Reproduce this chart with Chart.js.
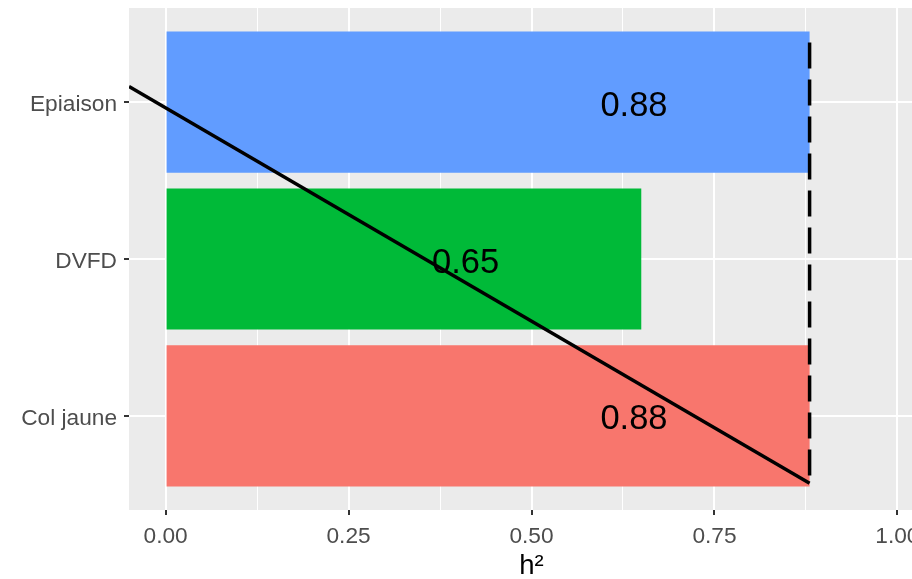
<!DOCTYPE html>
<html lang="fr">
<head>
    <meta charset="UTF-8">
    <title>h² par caractère</title>
    <script src="https://cdn.jsdelivr.net/npm/chart.js"></script>
    <style>
        body { margin: 0; overflow: hidden; background: #fff; }
        #wrap { width: 940px; height: 579px; }
    </style>
</head>
<body>
<div id="wrap"><canvas id="h2Chart" width="940" height="579"></canvas></div>

<script>
    // Data
    const traits = ['Col jaune', 'DVFD', 'Epiaison'];
    const traitPos = [1, 2, 3];
    const h2Values = [0.88, 0.65, 0.88];
    const barColors = ['#F8766D', '#00BA38', '#619CFF'];

    const xMajor = [0, 0.25, 0.5, 0.75, 1];
    const xMinor = [0.125, 0.375, 0.625, 0.875];

    // diagonal line and dashed reference line (x, y in data units)
    const trendX = [-0.05, 0.88];
    const trendY = [3.10, 0.57];
    const refX = [0.88, 0.88];
    const refY = [3.38, 0.57];

    const labelNudge = -0.24;
    const fontFamily = '"Liberation Sans", Arial, sans-serif';

    // panel background
    const panelBg = {
        id: 'panelBg',
        beforeDraw(chart) {
            const a = chart.chartArea;
            const ctx = chart.ctx;
            ctx.save();
            ctx.fillStyle = '#EBEBEB';
            ctx.fillRect(a.left, a.top, a.right - a.left, a.bottom - a.top);
            ctx.restore();
        }
    };

    // value labels on the bars
    const barLabels = {
        id: 'barLabels',
        afterDatasetsDraw(chart) {
            const ctx = chart.ctx;
            const xs = chart.scales.x, ys = chart.scales.y;
            ctx.save();
            ctx.font = '34.5px ' + fontFamily;
            ctx.fillStyle = '#000';
            ctx.textAlign = 'center';
            ctx.textBaseline = 'middle';
            h2Values.forEach((v, i) => {
                const x = xs.getPixelForValue(v + labelNudge);
                const y = ys.getPixelForValue(traitPos[i]) + 4;
                ctx.fillText(v.toFixed(2), x, y);
            });
            ctx.restore();
        }
    };

    const isMajor = v => xMajor.some(m => Math.abs(m - v) < 1e-9);

    new Chart(document.getElementById('h2Chart'), {
        data: {
            datasets: [{
                type: 'bar',
                indexAxis: 'y',
                order: 2,
                data: traitPos.map((p, i) => ({ x: h2Values[i], y: p })),
                backgroundColor: barColors,
                borderWidth: 0,
                categoryPercentage: 0.9,
                barPercentage: 1
            }, {
                type: 'line',
                order: 1,
                data: trendX.map((x, i) => ({ x: x, y: trendY[i] })),
                borderColor: '#000',
                borderWidth: 3.5,
                pointRadius: 0,
                fill: false
            }, {
                type: 'line',
                order: 0,
                data: refX.map((x, i) => ({ x: x, y: refY[i] })),
                borderColor: '#000',
                borderWidth: 3.5,
                borderDash: [26, 11],
                pointRadius: 0,
                fill: false
            }]
        },
        options: {
            responsive: false,
            animation: false,
            layout: { padding: { top: 8, right: 6, left: 0, bottom: 0 } },
            plugins: {
                legend: { display: false },
                tooltip: { enabled: false }
            },
            scales: {
                x: {
                    type: 'linear',
                    min: -0.05,
                    max: 1.05,
                    offset: false,
                    afterBuildTicks: s => {
                        s.ticks = xMajor.concat(xMinor).sort((a, b) => a - b).map(v => ({ value: v }));
                    },
                    afterFit: s => { s.height = 69; s.paddingLeft = 0; s.paddingRight = 0; },
                    border: { display: false },
                    grid: {
                        offset: false,
                        color: '#FFFFFF',
                        lineWidth: c => isMajor(c.tick.value) ? 2 : 1,
                        tickColor: c => isMajor(c.tick.value) ? '#333333' : 'rgba(0,0,0,0)',
                        tickLength: 5,
                        tickWidth: 2
                    },
                    ticks: {
                        autoSkip: false,
                        maxRotation: 0,
                        padding: 8,
                        color: '#4D4D4D',
                        font: { family: fontFamily, size: 22.7 },
                        callback: v => isMajor(v) ? v.toFixed(2) : ''
                    },
                    title: {
                        display: true,
                        text: 'h²',
                        color: '#000',
                        font: { family: fontFamily, size: 27.5, lineHeight: 1 },
                        padding: { top: 0, bottom: -1 }
                    }
                },
                y: {
                    type: 'linear',
                    min: 0.4,
                    max: 3.6,
                    offset: false,
                    afterBuildTicks: s => {
                        s.ticks = traitPos.map(v => ({ value: v }));
                    },
                    afterFit: s => { s.width = 129; s.paddingTop = 0; s.paddingBottom = 0; },
                    border: { display: false },
                    grid: {
                        offset: false,
                        color: '#FFFFFF',
                        lineWidth: 2,
                        tickColor: '#333333',
                        tickLength: 5,
                        tickWidth: 2
                    },
                    ticks: {
                        padding: 7,
                        labelOffset: 3,
                        color: '#4D4D4D',
                        font: { family: fontFamily, size: 22.7 },
                        callback: v => traits[traitPos.indexOf(v)]
                    }
                }
            }
        },
        plugins: [panelBg, barLabels]
    });
</script>
</body>
</html>
